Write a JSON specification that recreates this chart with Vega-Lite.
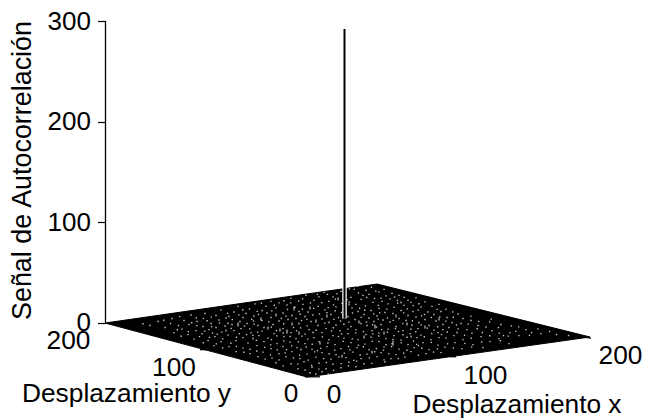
{"$schema":"https://vega.github.io/schema/vega-lite/v6.json","width":645,"height":419,"autosize":"none","padding":0,"background":"white","config":{"view":{"stroke":null},"font":"Liberation Sans"},
"datasets":{"floor":[{"u":105,"z":-0.5,"z2":-0.5},{"u":307,"z":28.4,"z2":-54.2},{"u":377,"z":38.3,"z2":-44.3},{"u":590,"z":-14.4,"z2":-14.4}],
"peak":[{"u":344.5,"z":4,"z2":292}],
"vaxis":[{"u":105.5,"z":0,"z2":300}],
"floorticks":[{"u":200,"u2":207,"z":-27,"z2":-27},{"u":305,"u2":320,"z":-54,"z2":-54},{"u":450,"u2":456,"z":-34,"z2":-34},{"u":584,"u2":591,"z":-14.5,"z2":-15.5}],
"labels":[{"u":68.5,"z":-18.4,"t":"200"},{"u":174,"z":-45.3,"t":"100"},{"u":291,"z":-71.1,"t":"0"},{"u":334,"z":-72.1,"t":"0"},{"u":485.5,"z":-53.2,"t":"100"},{"u":620.5,"z":-33.3,"t":"200"},{"u":126.5,"z":-71.5,"t":"Desplazamiento y"},{"u":517,"z":-82.1,"t":"Desplazamiento x"}],
"spikes":[
{"u":238,"z":-4,"z2":0},{"u":287,"z":-11,"z2":-7},{"u":294,"z":12,"z2":16},{"u":276,"z":6,"z2":9},{"u":261,"z":2,"z2":5},{"u":268,"z":-7,"z2":-4},{"u":280,"z":-9,"z2":-6},{"u":292,"z":-3,"z2":0},{"u":299,"z":-12,"z2":-9},{"u":316,"z":0,"z2":3},{"u":327,"z":5,"z2":8},{"u":375,"z":-6,"z2":-2},{"u":393,"z":-23,"z2":-18},{"u":384,"z":-12,"z2":-9},{"u":396,"z":5,"z2":8},{"u":407,"z":-3,"z2":0},{"u":359,"z":-1,"z2":2},{"u":349,"z":17,"z2":19},{"u":364,"z":-16,"z2":-13},{"u":411,"z":-15,"z2":-13},{"u":425,"z":-6,"z2":-3},{"u":301,"z":-28,"z2":-26},{"u":253,"z":-17,"z2":-15},{"u":320,"z":-22,"z2":-19},{"u":342,"z":-35,"z2":-32},{"u":439,"z":2,"z2":5},{"u":457,"z":-11,"z2":-9},{"u":338,"z":22,"z2":25},{"u":401,"z":19,"z2":21},{"u":372,"z":-31,"z2":-28},{"u":226,"z":-9,"z2":-7},{"u":310,"z":13,"z2":16}
],
"speckles":[
{"u":358,"z":36},{"u":371.5,"z":35},{"u":384,"z":33},{"u":341,"z":31},{"u":349.5,"z":33.5},{"u":366,"z":32},{"u":379,"z":30.5},{"u":392,"z":29},{"u":324,"z":30},{"u":337,"z":28.5},{"u":358.5,"z":29.5},{"u":363,"z":27},{"u":386,"z":26.5},{"u":399,"z":27},{"u":404,"z":25},{"u":306,"z":27},{"u":319,"z":25.5},{"u":327.5,"z":28},{"u":351,"z":25},{"u":369,"z":28},{"u":374.5,"z":24},{"u":390,"z":23.5},{"u":408,"z":22},{"u":291,"z":24},{"u":298.5,"z":21.5},{"u":314,"z":22},{"u":333,"z":25.5},{"u":347,"z":22.5},{"u":361,"z":23},{"u":382,"z":21},{"u":397.5,"z":22},{"u":416,"z":24.5},{"u":425,"z":20.5},{"u":271,"z":21},{"u":279,"z":19.5},{"u":303,"z":18},{"u":310.5,"z":19.5},{"u":329,"z":21},{"u":342,"z":19},{"u":356,"z":18},{"u":373,"z":20},{"u":388,"z":18.5},{"u":404,"z":17},{"u":411,"z":20},{"u":432,"z":16},{"u":255,"z":18.5},{"u":266,"z":16},{"u":287,"z":17.5},{"u":295,"z":15},{"u":318,"z":16},{"u":336,"z":15.5},{"u":352,"z":14.5},{"u":365.5,"z":16.5},{"u":379,"z":14},{"u":394,"z":15},{"u":421,"z":15.5},{"u":439,"z":18},{"u":238,"z":16},{"u":249.5,"z":13.5},{"u":262,"z":12},{"u":276,"z":14.5},{"u":299,"z":11},{"u":308,"z":10.5},{"u":325,"z":12.5},{"u":341.5,"z":10},{"u":358,"z":11},{"u":371,"z":12},{"u":385,"z":10},{"u":401,"z":12},{"u":413,"z":11},{"u":428,"z":10.5},{"u":446,"z":13},{"u":221,"z":12.5},{"u":234,"z":10.5},{"u":246,"z":9},{"u":258.5,"z":8},{"u":283,"z":9.5},{"u":292,"z":7},{"u":313,"z":7.5},{"u":331,"z":8},{"u":348,"z":6},{"u":364,"z":8},{"u":377,"z":6.5},{"u":393,"z":9},{"u":408,"z":7},{"u":434,"z":8},{"u":441,"z":11},{"u":458,"z":8.5},{"u":205,"z":9},{"u":216,"z":7},{"u":229,"z":6},{"u":243,"z":5},{"u":254,"z":6.5},{"u":271,"z":5},{"u":296,"z":4},{"u":305,"z":6},{"u":322,"z":3.5},{"u":338.5,"z":5},{"u":355,"z":3},{"u":369,"z":4.5},{"u":383,"z":2.5},{"u":399,"z":4},{"u":416,"z":5.5},{"u":425,"z":3},{"u":447,"z":5},{"u":463,"z":4},{"u":191,"z":7.5},{"u":203.5,"z":4},{"u":219,"z":2.5},{"u":226,"z":4.5},{"u":240,"z":1},{"u":262,"z":2},{"u":279,"z":1.5},{"u":288,"z":3},{"u":311,"z":1},{"u":329,"z":0},{"u":361,"z":-1},{"u":374,"z":1},{"u":390,"z":0.5},{"u":406,"z":2},{"u":419,"z":0},{"u":436,"z":1.5},{"u":452,"z":0},{"u":471,"z":2},{"u":172,"z":4},{"u":184,"z":2},{"u":197,"z":1},{"u":211,"z":-1},{"u":232,"z":-2},{"u":247,"z":-1},{"u":258,"z":-3},{"u":273,"z":-2},{"u":299,"z":-1},{"u":318,"z":-3},{"u":336,"z":-2.5},{"u":351,"z":-4},{"u":367,"z":-3},{"u":381,"z":-2},{"u":396,"z":-4},{"u":412,"z":-2.5},{"u":429,"z":-3},{"u":443,"z":-2},{"u":461,"z":-1},{"u":478,"z":-3},{"u":158,"z":1},{"u":170.5,"z":-1},{"u":189,"z":-2},{"u":203,"z":-4},{"u":216,"z":-5},{"u":225,"z":-3.5},{"u":241,"z":-6},{"u":264,"z":-5},{"u":283,"z":-6},{"u":309,"z":-7},{"u":326,"z":-6},{"u":340,"z":-8},{"u":356,"z":-7},{"u":372,"z":-8},{"u":388,"z":-6.5},{"u":403,"z":-8},{"u":418,"z":-6},{"u":434,"z":-7.5},{"u":449,"z":-5},{"u":467,"z":-7},{"u":486,"z":-4.5},{"u":501,"z":-2},{"u":150,"z":-3},{"u":165,"z":-5},{"u":182,"z":-6.5},{"u":196,"z":-8},{"u":209,"z":-7},{"u":222,"z":-9.5},{"u":234,"z":-8},{"u":251,"z":-10},{"u":262,"z":-8.5},{"u":274,"z":-11},{"u":291,"z":-10},{"u":305,"z":-11.5},{"u":322,"z":-10},{"u":333,"z":-13},{"u":348,"z":-11},{"u":366,"z":-12},{"u":379,"z":-10.5},{"u":394,"z":-13},{"u":410,"z":-11},{"u":421,"z":-12.5},{"u":438,"z":-10},{"u":454,"z":-13},{"u":472,"z":-10.5},{"u":492,"z":-8},{"u":510,"z":-10},{"u":526,"z":-7},{"u":174,"z":-10},{"u":188,"z":-12},{"u":202,"z":-11},{"u":215,"z":-14},{"u":228,"z":-12.5},{"u":243,"z":-15},{"u":259,"z":-13},{"u":268,"z":-15.5},{"u":284,"z":-14},{"u":296,"z":-16},{"u":314,"z":-15},{"u":329,"z":-17},{"u":344,"z":-15.5},{"u":358,"z":-17},{"u":371,"z":-14.5},{"u":386,"z":-16},{"u":401,"z":-17.5},{"u":417,"z":-15},{"u":431,"z":-17},{"u":446,"z":-15.5},{"u":463,"z":-17},{"u":481,"z":-14},{"u":499,"z":-16},{"u":519,"z":-13},{"u":541,"z":-11},{"u":194,"z":-16.5},{"u":208,"z":-18},{"u":221,"z":-19},{"u":236,"z":-18},{"u":248,"z":-20.5},{"u":264,"z":-19},{"u":277,"z":-21},{"u":290,"z":-19.5},{"u":305,"z":-21},{"u":319,"z":-19},{"u":335,"z":-22},{"u":351,"z":-20},{"u":365,"z":-21.5},{"u":379,"z":-19},{"u":392,"z":-21},{"u":408,"z":-22},{"u":423,"z":-20},{"u":438,"z":-22.5},{"u":455,"z":-20},{"u":473,"z":-22},{"u":490,"z":-19},{"u":509,"z":-21},{"u":214,"z":-23},{"u":229,"z":-24},{"u":243,"z":-25.5},{"u":257,"z":-23},{"u":271,"z":-26},{"u":283,"z":-24},{"u":297,"z":-25},{"u":312,"z":-26.5},{"u":327,"z":-24},{"u":341,"z":-26},{"u":357,"z":-25},{"u":369,"z":-27},{"u":384,"z":-24.5},{"u":399,"z":-26.5},{"u":414,"z":-25},{"u":429,"z":-27},{"u":445,"z":-24.5},{"u":462,"z":-26},{"u":483,"z":-25},{"u":236,"z":-29},{"u":250,"z":-31},{"u":263,"z":-29.5},{"u":279,"z":-31},{"u":292,"z":-29},{"u":307,"z":-31.5},{"u":322,"z":-30},{"u":336,"z":-32},{"u":353,"z":-29.5},{"u":367,"z":-31.5},{"u":381,"z":-30},{"u":396,"z":-32},{"u":411,"z":-29},{"u":426,"z":-31},{"u":441,"z":-30},{"u":258,"z":-34},{"u":272,"z":-35.5},{"u":286,"z":-34},{"u":300,"z":-36},{"u":316,"z":-34.5},{"u":331,"z":-36.5},{"u":346,"z":-35},{"u":361,"z":-36},{"u":377,"z":-34},{"u":391,"z":-36},{"u":405,"z":-34.5},{"u":276,"z":-40},{"u":291,"z":-41},{"u":304,"z":-39},{"u":319,"z":-40.5},{"u":333,"z":-41.5},{"u":349,"z":-39.5},{"u":364,"z":-41},{"u":385,"z":-39},{"u":298,"z":-46},{"u":312,"z":-44.5},{"u":326,"z":-46},{"u":341,"z":-45},{"u":356,"z":-44},{"u":310,"z":-50},{"u":322,"z":-49},
{"u":345,"z":14},{"u":333.5,"z":17.5},{"u":301.5,"z":2},{"u":276.5,"z":-8},{"u":253.5,"z":1.5},{"u":267,"z":9.5},{"u":287.5,"z":13},{"u":319.5,"z":8.5},{"u":352.5,"z":9.5},{"u":376.5,"z":-4.5},{"u":398.5,"z":-9},{"u":413.5,"z":-18.5},{"u":363.5,"z":-9},{"u":331.5,"z":-8.5},{"u":302,"z":-13.5},{"u":271.5,"z":-17},{"u":246.5,"z":-12},{"u":212.5,"z":-10.5},{"u":286.5,"z":-27},{"u":317.5,"z":-28},{"u":348.5,"z":-24},{"u":383.5,"z":-27.5},{"u":418.5,"z":-23},{"u":441.5,"z":-12},{"u":456.5,"z":-2.5},{"u":424.5,"z":8},{"u":387.5,"z":4.5},{"u":366.5,"z":0.5},{"u":340.5,"z":1.5},{"u":293.5,"z":-5},{"u":244.5,"z":-3.5},{"u":219.5,"z":-0.5},{"u":199.5,"z":-14},{"u":178.5,"z":-3},{"u":503.5,"z":-13},{"u":531.5,"z":-10},{"u":556.5,"z":-12},{"u":568.5,"z":-13},
{"u":354.2,"z":33},{"u":375.8,"z":31.2},{"u":345.7,"z":28},{"u":394.6,"z":25.3},{"u":317.3,"z":28.2},{"u":381.1,"z":24.2},{"u":335.4,"z":23.3},{"u":366.8,"z":24.9},{"u":302.6,"z":23.6},{"u":413.2,"z":16.8},{"u":283.9,"z":21.7},{"u":321.7,"z":19.8},{"u":349.2,"z":20.4},{"u":378.3,"z":17.1},{"u":397.6,"z":19.3},{"u":418.9,"z":18.7},{"u":261.4,"z":19.2},{"u":274.3,"z":17.2},{"u":290.7,"z":19.6},{"u":313.6,"z":14.1},{"u":328.2,"z":14.8},{"u":359.6,"z":14.2},{"u":386.9,"z":13.4},{"u":407.3,"z":13.6},{"u":437.1,"z":13.1},{"u":452.7,"z":10.6},{"u":242.8,"z":12.7},{"u":257.2,"z":11.1},{"u":271.8,"z":11.6},{"u":302.4,"z":13.3},{"u":335.1,"z":11.7},{"u":364.7,"z":12.2},{"u":379.6,"z":9.7},{"u":418.2,"z":12.4},{"u":227.6,"z":9.1},{"u":211.3,"z":5.4},{"u":238.9,"z":7.6},{"u":251.7,"z":3.2},{"u":286.1,"z":6.4},{"u":300.2,"z":8.2},{"u":326.9,"z":9.8},{"u":343.3,"z":7.4},{"u":361.2,"z":5.1},{"u":373.8,"z":8.6},{"u":403.7,"z":9.6},{"u":421.6,"z":6.7},{"u":439.8,"z":5.6},{"u":453.3,"z":5.2},{"u":470.9,"z":6.3},{"u":179.7,"z":5.8},{"u":196.4,"z":4.7},{"u":232.3,"z":2.9},{"u":268.7,"z":0.6},{"u":281.4,"z":4.1},{"u":306.9,"z":3.2},{"u":333.8,"z":3.1},{"u":348.9,"z":0.4},{"u":378.2,"z":3.3},{"u":393.2,"z":2.1},{"u":412.4,"z":1.7},{"u":431.4,"z":4.9},{"u":445.9,"z":1.4},{"u":478.7,"z":1.1},{"u":491.2,"z":3.4},{"u":163.8,"z":2.3},{"u":191.7,"z":-0.2},{"u":207.1,"z":1.8},{"u":227.9,"z":-0.7},{"u":254.1,"z":-1.6},{"u":283.7,"z":-1.2},{"u":307.2,"z":-3.4},{"u":324.8,"z":-0.6},{"u":343.9,"z":-1.7},{"u":372.6,"z":-2.2},{"u":402.8,"z":-1.1},{"u":421.2,"z":-2.3},{"u":437.7,"z":-4.2},{"u":468.2,"z":-1.6},{"u":489.6,"z":0.7},{"u":511.4,"z":-3.3},{"u":143.1,"z":-1.2},{"u":177.3,"z":-7.2},{"u":196.9,"z":-3.1},{"u":211.6,"z":-4.2},{"u":231.2,"z":-5.8},{"u":249.7,"z":-6.3},{"u":271.4,"z":-4.6},{"u":300.7,"z":-5.4},{"u":316.2,"z":-7.7},{"u":333.3,"z":-5.2},{"u":347.8,"z":-6.6},{"u":381.7,"z":-7.1},{"u":395.4,"z":-6.1},{"u":410.9,"z":-6.7},{"u":427.3,"z":-5.6},{"u":442.9,"z":-7.2},{"u":458.1,"z":-6.4},{"u":477.2,"z":-6.2},{"u":498.3,"z":-5.1},{"u":518.7,"z":-4.4},{"u":537.9,"z":-6.3},{"u":188.4,"z":-9.1},{"u":204.8,"z":-8.6},{"u":217.2,"z":-11.6},{"u":239.3,"z":-11.1},{"u":257.6,"z":-9.6},{"u":283.1,"z":-10.4},{"u":296.6,"z":-8.3},{"u":312.9,"z":-9.9},{"u":341.6,"z":-11.4},{"u":355.7,"z":-10.3},{"u":372.8,"z":-11.3},{"u":387.4,"z":-9.7},{"u":403.1,"z":-12.2},{"u":415.8,"z":-9.2},{"u":431.7,"z":-11.1},{"u":447.3,"z":-9.4},{"u":464.6,"z":-12.7},{"u":482.3,"z":-9.9},{"u":499.2,"z":-10.6},{"u":515.8,"z":-8.8},{"u":549.6,"z":-8.9},{"u":181.2,"z":-13.7},{"u":209.4,"z":-14.9},{"u":222.7,"z":-16.2},{"u":236.6,"z":-14.6},{"u":252.9,"z":-12.8},{"u":276.9,"z":-13.3},{"u":290.1,"z":-13.9},{"u":307.8,"z":-16.6},{"u":322.4,"z":-14.3},{"u":338.4,"z":-13.9},{"u":352.3,"z":-16.2},{"u":378.7,"z":-13.4},{"u":392.9,"z":-16.7},{"u":407.1,"z":-14.7},{"u":424.3,"z":-14.2},{"u":438.9,"z":-15.1},{"u":471.2,"z":-15.7},{"u":489.8,"z":-13.2},{"u":508.1,"z":-13.6},{"u":529.4,"z":-12.7},{"u":203.2,"z":-20.1},{"u":216.3,"z":-21.2},{"u":230.9,"z":-20.6},{"u":256.4,"z":-17.7},{"u":270.7,"z":-22.3},{"u":283.7,"z":-18.2},{"u":298.4,"z":-19.3},{"u":312.2,"z":-21.6},{"u":327.9,"z":-20.4},{"u":343.2,"z":-18.8},{"u":358.4,"z":-22.7},{"u":372.2,"z":-18.7},{"u":386.1,"z":-22.1},{"u":401.2,"z":-20.3},{"u":416.7,"z":-21.7},{"u":431.3,"z":-19.7},{"u":447.6,"z":-21.2},{"u":464.8,"z":-20.8},{"u":481.6,"z":-19.4},{"u":500.3,"z":-18.1},{"u":222.6,"z":-25.2},{"u":236.4,"z":-23.8},{"u":250.1,"z":-26.6},{"u":264.7,"z":-24.7},{"u":277.2,"z":-27.2},{"u":291.6,"z":-23.3},{"u":306.2,"z":-24.4},{"u":320.6,"z":-25.7},{"u":334.7,"z":-27.4},{"u":349.8,"z":-27.2},{"u":363.3,"z":-24.1},{"u":376.4,"z":-25.9},{"u":391.6,"z":-23.9},{"u":406.9,"z":-27.6},{"u":421.9,"z":-25.6},{"u":437.3,"z":-26.2},{"u":453.4,"z":-25.3},{"u":471.7,"z":-24.2},{"u":243.9,"z":-29.6},{"u":256.8,"z":-28.3},{"u":270.4,"z":-32.2},{"u":285.2,"z":-30.2},{"u":299.4,"z":-32.4},{"u":314.7,"z":-29.2},{"u":329.2,"z":-31.1},{"u":344.3,"z":-30.4},{"u":360.1,"z":-32.3},{"u":374.7,"z":-29.1},{"u":388.8,"z":-31.2},{"u":403.7,"z":-30.6},{"u":418.4,"z":-32.6},{"u":433.6,"z":-29.4},{"u":265.2,"z":-36.4},{"u":279.1,"z":-37.2},{"u":293.4,"z":-35.2},{"u":308.2,"z":-37.4},{"u":323.7,"z":-35.9},{"u":338.9,"z":-34.2},{"u":353.8,"z":-37.6},{"u":369.4,"z":-35.1},{"u":384.1,"z":-37.2},{"u":398.3,"z":-35.8},{"u":283.2,"z":-43.2},{"u":297.8,"z":-41.4},{"u":311.7,"z":-42.6},{"u":326.4,"z":-39.8},{"u":341.2,"z":-40.9},{"u":356.7,"z":-38.4},{"u":371.8,"z":-40.6},{"u":305.1,"z":-47.2},{"u":318.8,"z":-46.4},{"u":333.6,"z":-47.6},{"u":348.4,"z":-43.1},{"u":315.9,"z":-51.2},{"u":328.3,"z":-51.4}
]},
"encoding":{"x":{"field":"u","type":"quantitative","scale":{"domain":[0,645],"nice":false,"zero":false},"axis":null},"y":{"field":"z","type":"quantitative","scale":{"domain":[-96,320.9],"nice":false,"zero":false},"axis":{"values":[0,100,200,300],"domain":false,"grid":false,"tickSize":8,"tickColor":"black","tickWidth":1.2,"labelFont":"Liberation Sans","labelFontSize":26,"labelColor":"black","labelPadding":7,"offset":-105.5,"title":"Señal de Autocorrelación","titleFont":"Liberation Sans","titleFontSize":26.9,"titleFontWeight":"normal","titleColor":"black","titleX":-83.5,"titleY":170,"titleAngle":270,"titleAlign":"center","titleBaseline":"middle"}}},
"layer":[
{"data":{"name":"floor"},"mark":{"type":"area","color":"black","stroke":"black","strokeWidth":1,"interpolate":"linear"},"encoding":{"y2":{"field":"z2"}}},
{"data":{"name":"speckles"},"mark":{"type":"square","size":1.8,"color":"white","opacity":0.8}},
{"data":{"name":"spikes"},"mark":{"type":"rule","color":"white","strokeWidth":1,"opacity":0.9},"encoding":{"y2":{"field":"z2"}}},
{"data":{"name":"peak"},"mark":{"type":"rule","color":"white","strokeWidth":4.5},"encoding":{"y2":{"field":"z2"}}},
{"data":{"name":"peak"},"mark":{"type":"rule","color":"black","strokeWidth":2},"encoding":{"y2":{"field":"z2"}}},
{"data":{"name":"vaxis"},"mark":{"type":"rule","color":"black","strokeWidth":1.3},"encoding":{"y2":{"field":"z2"}}},
{"data":{"name":"floorticks"},"mark":{"type":"rule","color":"black","strokeWidth":1.3},"encoding":{"x2":{"field":"u2"},"y2":{"field":"z2"}}},
{"data":{"name":"labels"},"mark":{"type":"text","font":"Liberation Sans","fontSize":26.3,"color":"black","align":"center","baseline":"middle"},"encoding":{"text":{"field":"t","type":"nominal"}}}
]}
